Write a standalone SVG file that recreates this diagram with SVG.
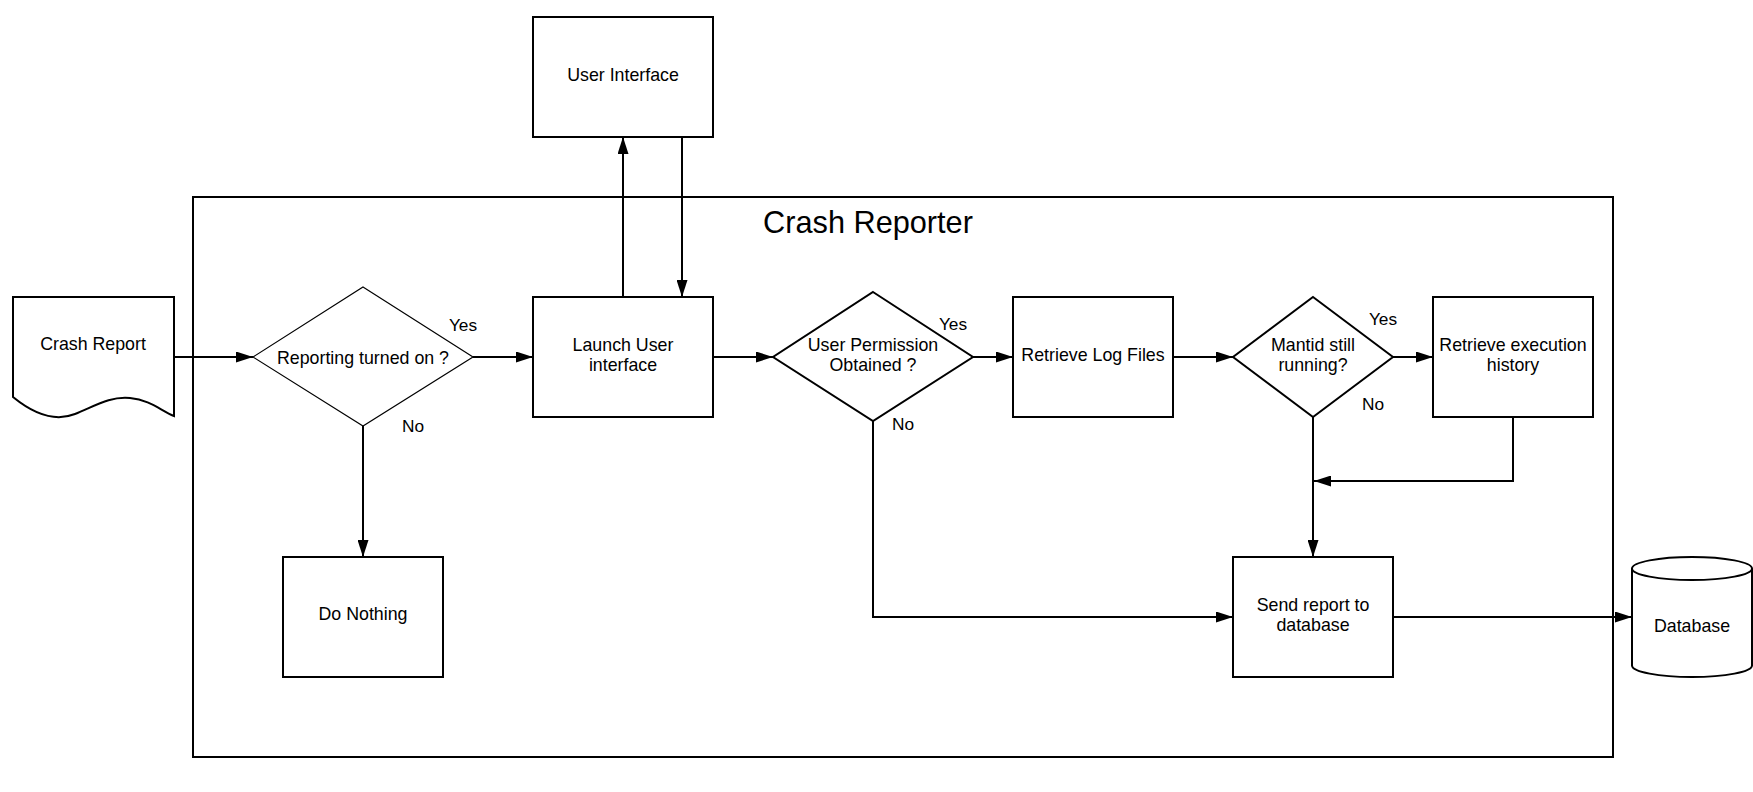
<svg xmlns="http://www.w3.org/2000/svg" width="1753" height="792" viewBox="0 0 1753 792">
<style>
text{font-family:"Liberation Sans",Arial,sans-serif;font-size:17.8px;fill:#000;text-anchor:middle}
.lbl{font-size:17.3px}
.title{font-size:30.7px}
.shape{fill:#fff;stroke:#000;stroke-width:2}
.thin{fill:#fff;stroke:#000;stroke-width:1.2}
.conn{fill:none;stroke:#000;stroke-width:2;marker-end:url(#arr)}
</style>
<defs>
<marker id="arr" markerUnits="userSpaceOnUse" markerWidth="17" markerHeight="11" refX="17" refY="5.5" orient="auto">
<path d="M0,0 L17,5.5 L0,11 Z" fill="#000"/>
</marker>
</defs>
<rect width="1753" height="792" fill="#fff"/>
<g id="container">
<rect x="193" y="197" width="1420" height="560" fill="none" stroke="#000" stroke-width="2"/>
<text class="title" x="868" y="233">Crash Reporter</text>
</g>
<g id="crash-report">
<path class="shape" d="M13,297 H174 V416 C160,410 150,400 130,398 C110,396 95,406 75,414 C55,422 35,415 13,397 Z"/>
<text x="93" y="350">Crash Report</text>
</g>
<g id="reporting-on">
<polygon class="thin" points="363,287 473,357 363,426 253,357"/>
<text x="363" y="364">Reporting turned on ?</text>
</g>
<g id="user-interface">
<rect class="shape" x="533" y="17" width="180" height="120"/>
<text x="623" y="81">User Interface</text>
</g>
<g id="launch-ui">
<rect class="shape" x="533" y="297" width="180" height="120"/>
<text x="623" y="350.5">Launch User</text>
<text x="623" y="371">interface</text>
</g>
<g id="permission">
<polygon class="shape" points="873,292 973,357 873,421 773,357"/>
<text x="873" y="350.5">User Permission</text>
<text x="873" y="371">Obtained ?</text>
</g>
<g id="log-files">
<rect class="shape" x="1013" y="297" width="160" height="120"/>
<text x="1093" y="361">Retrieve Log Files</text>
</g>
<g id="mantid-running">
<polygon class="shape" points="1313,297 1393,357 1313,417 1233,357"/>
<text x="1313" y="350.5">Mantid still</text>
<text x="1313" y="371">running?</text>
</g>
<g id="exec-history">
<rect class="shape" x="1433" y="297" width="160" height="120"/>
<text x="1513" y="350.5">Retrieve execution</text>
<text x="1513" y="371">history</text>
</g>
<g id="do-nothing">
<rect class="shape" x="283" y="557" width="160" height="120"/>
<text x="363" y="620">Do Nothing</text>
</g>
<g id="send-report">
<rect class="shape" x="1233" y="557" width="160" height="120"/>
<text x="1313" y="610.5">Send report to</text>
<text x="1313" y="631">database</text>
</g>
<g id="database">
<path class="shape" d="M1632,568.5 A60,11.5 0 0,1 1752,568.5 V665.5 A60,11.5 0 0,1 1632,665.5 Z"/>
<path d="M1632,568.5 A60,11.5 0 0,0 1752,568.5" fill="none" stroke="#000" stroke-width="2"/>
<text x="1692" y="632">Database</text>
</g>
<g id="connectors">
<path class="conn" d="M174,357 H253"/>
<path class="conn" d="M473,357 H533"/>
<path class="conn" d="M363,426 V557"/>
<path class="conn" d="M623,297 V137"/>
<path class="conn" d="M682,137 V297"/>
<path class="conn" d="M713,357 H773"/>
<path class="conn" d="M973,357 H1013"/>
<path class="conn" d="M873,421 V617 H1233"/>
<path class="conn" d="M1173,357 H1233"/>
<path class="conn" d="M1393,357 H1433"/>
<path class="conn" d="M1513,417 V481 H1314"/>
<path class="conn" d="M1313,417 V557"/>
<path class="conn" d="M1393,617 H1632"/>
<text class="lbl" x="463" y="331">Yes</text>
<text class="lbl" x="413" y="432">No</text>
<text class="lbl" x="953" y="330">Yes</text>
<text class="lbl" x="903" y="430">No</text>
<text class="lbl" x="1383" y="325">Yes</text>
<text class="lbl" x="1373" y="410">No</text>
</g>
</svg>
